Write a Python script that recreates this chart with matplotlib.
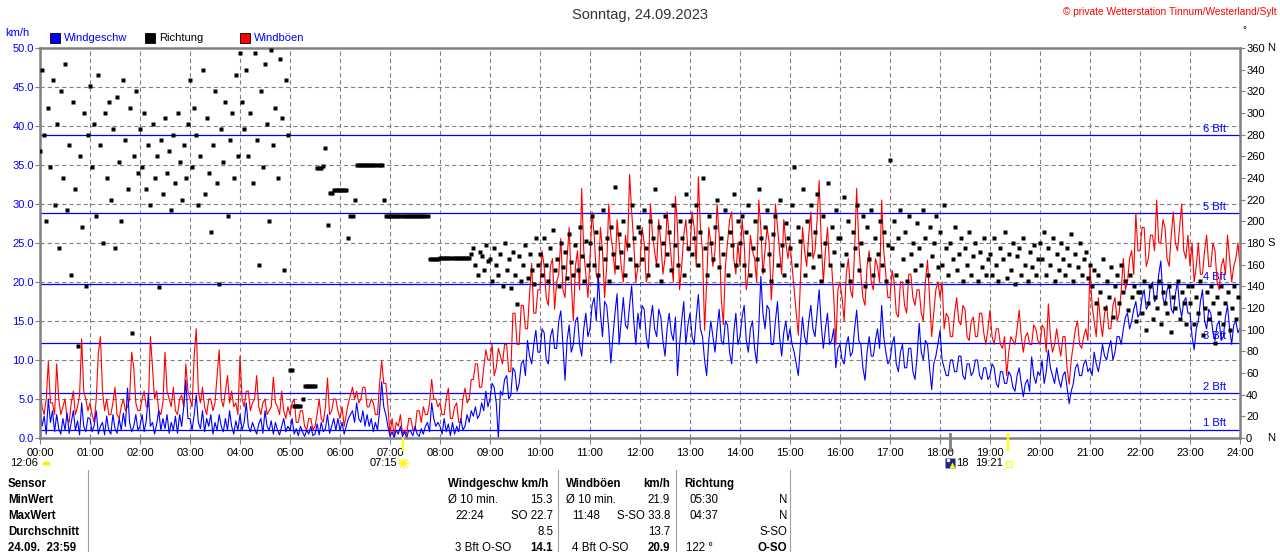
import numpy as np
import matplotlib
matplotlib.use('Agg')
import matplotlib.pyplot as plt
from matplotlib.patches import Rectangle
from matplotlib.lines import Line2D
from matplotlib import transforms

plt.rcParams['font.family'] = ['Liberation Sans', 'DejaVu Sans']
plt.rcParams['lines.scale_dashes'] = False

# ---------------- data ----------------
title = "Sonntag, 24.09.2023"
copyright_text = "\u00a9 private Wetterstation Tinnum/Westerland/Sylt"
hour_labels = [f"{h:02d}:00" for h in range(25)]
speed_ticks = [0, 5, 10, 15, 20, 25, 30, 35, 40, 45, 50]
dir_ticks = list(range(0, 361, 20))
dir_names = {0: "N", 180: "S", 360: "N"}
bft_limits = [1.08, 5.76, 12.24, 19.8, 28.8, 38.88]
bft_names = ["1 Bft", "2 Bft", "3 Bft", "4 Bft", "5 Bft", "6 Bft"]

sunrise = "07:15"
sunset = "19:21"
moon_time = "12:06"
moon_mark = "18:12"

step_min = 2.5  # one value every 2.5 minutes, one row per hour

speed_by_hour = [
    [4.2, 1.5, 2.8, 0.5, 5.0, 2.0, 3.5, 0.8, 3.0, 1.2, 0.5, 2.5, 1.0, 3.2, 0.6, 2.0, 3.5, 1.0, 2.2, 0.4, 4.5, 1.5, 0.8, 2.6],
    [2.5, 0.8, 1.6, 3.5, 0.5, 1.5, 2.0, 0.4, 2.8, 1.0, 0.5, 3.0, 1.2, 0.6, 2.5, 1.0, 3.2, 1.5, 6.4, 2.0, 0.8, 1.5, 3.0, 1.0],
    [1.5, 3.0, 0.8, 2.2, 5.7, 1.5, 2.0, 0.5, 1.8, 3.5, 1.0, 2.5, 1.2, 3.0, 0.6, 2.0, 1.0, 2.8, 0.6, 3.0, 1.5, 4.0, 7.4, 2.5],
    [2.5, 1.0, 3.0, 5.5, 2.0, 1.2, 3.5, 0.8, 2.5, 1.5, 3.0, 0.5, 2.0, 1.0, 3.0, 1.5, 0.8, 2.5, 1.0, 3.5, 1.5, 0.5, 2.2, 1.0],
    [3.0, 1.0, 2.0, 4.5, 1.5, 0.8, 2.0, 1.2, 0.5, 1.8, 2.5, 0.6, 3.5, 1.5, 1.0, 2.2, 0.5, 2.0, 1.0, 0.4, 1.5, 2.5, 0.8, 1.5],
    [1.0, 2.5, 0.5, 1.2, 0.3, 1.5, 0.8, 0.2, 1.0, 0.5, 1.5, 0.3, 0.5, 1.8, 0.4, 2.0, 0.8, 1.2, 3.0, 0.6, 1.5, 2.5, 1.0, 2.5],
    [1.0, 2.0, 0.5, 1.5, 2.5, 3.0, 3.5, 2.0, 4.5, 2.5, 2.0, 3.5, 1.5, 3.0, 1.5, 2.5, 0.8, 2.0, 1.0, 3.5, 7.2, 4.0, 3.0, 1.5],
    [0.2, 0.8, 0.0, 1.0, 0.5, 1.5, 0.2, 0.8, 0.0, 1.0, 0.8, 0.3, 1.5, 0.5, 0.2, 1.2, 0.5, 1.5, 2.0, 0.8, 4.5, 2.5, 1.5, 2.0],
    [1.5, 0.5, 2.5, 0.8, 1.8, 0.3, 2.0, 0.5, 1.5, 0.8, 2.5, 1.0, 1.5, 3.0, 2.0, 3.5, 2.8, 4.0, 2.5, 3.0, 4.5, 3.5, 6.0, 4.0],
    [5.0, 7.0, 6.5, 4.5, 0.0, 6.0, 5.5, 7.5, 8.0, 5.0, 5.5, 9.0, 8.5, 6.0, 7.0, 9.5, 10.0, 8.0, 12.5, 10.5, 9.5, 12.0, 13.8, 11.0],
    [11.0, 14.0, 13.5, 10.0, 9.5, 13.0, 14.0, 11.5, 11.5, 15.0, 16.3, 12.0, 7.4, 12.5, 14.5, 11.0, 12.0, 15.0, 15.5, 12.0, 10.5, 14.0, 16.0, 13.0],
    [14.0, 17.0, 18.0, 15.0, 20.8, 16.0, 13.0, 17.5, 17.0, 14.0, 9.6, 13.0, 16.0, 18.5, 12.0, 15.0, 18.0, 14.5, 14.0, 17.0, 19.5, 15.0, 12.0, 16.0],
    [14.0, 17.0, 16.5, 13.0, 11.5, 15.0, 17.0, 14.0, 13.0, 16.5, 15.5, 12.5, 10.5, 14.0, 16.0, 13.5, 12.5, 15.5, 8.0, 12.0, 15.0, 17.5, 12.0, 14.5],
    [16.0, 13.0, 12.0, 15.5, 18.4, 14.0, 13.0, 10.0, 8.0, 12.5, 15.0, 13.0, 11.0, 14.0, 16.5, 12.5, 12.0, 15.0, 14.5, 11.0, 9.5, 13.5, 16.0, 12.0],
    [13.0, 15.5, 17.0, 12.5, 11.0, 14.0, 15.0, 11.5, 9.6, 14.0, 20.7, 16.0, 14.0, 17.0, 16.5, 12.0, 12.0, 15.0, 17.5, 13.0, 10.5, 13.5, 15.0, 12.5],
    [14.0, 12.0, 11.0, 9.5, 8.0, 12.0, 15.5, 13.0, 12.0, 15.0, 17.0, 14.0, 13.0, 16.0, 19.0, 14.5, 11.5, 14.0, 16.0, 12.0, 12.5, 14.0, 9.0, 11.5],
    [12.0, 10.0, 9.5, 12.0, 13.0, 10.5, 11.0, 14.0, 16.4, 12.5, 12.0, 9.0, 7.4, 11.0, 13.0, 10.5, 10.5, 12.5, 14.0, 11.5, 17.0, 13.0, 11.0, 9.5],
    [10.0, 12.0, 13.0, 9.5, 8.5, 11.0, 12.0, 9.0, 9.0, 11.5, 11.5, 8.5, 7.5, 10.5, 14.7, 11.0, 10.0, 12.5, 12.0, 9.0, 6.2, 9.5, 10.5, 12.0],
    [13.8, 10.0, 9.0, 8.0, 8.0, 10.0, 10.0, 8.5, 8.5, 10.5, 10.5, 8.0, 7.5, 9.5, 9.5, 8.0, 8.5, 10.0, 10.0, 8.0, 7.5, 9.0, 9.0, 7.5],
    [8.0, 9.5, 9.0, 7.0, 6.5, 8.5, 8.5, 7.0, 7.0, 8.5, 8.0, 6.5, 6.0, 8.0, 9.0, 7.0, 5.3, 7.0, 7.5, 6.0, 10.4, 8.0, 7.0, 8.5],
    [8.0, 10.0, 7.0, 8.5, 11.3, 9.0, 8.0, 7.0, 9.0, 7.5, 6.5, 8.0, 8.5, 6.5, 4.4, 6.0, 7.0, 9.0, 9.5, 8.0, 8.0, 9.5, 10.0, 8.5],
    [9.0, 8.0, 11.0, 9.5, 8.5, 10.0, 12.0, 10.5, 10.0, 11.5, 12.5, 10.0, 11.0, 13.0, 13.0, 12.0, 14.0, 15.5, 16.0, 14.0, 15.0, 16.5, 17.5, 15.5],
    [16.0, 18.0, 19.0, 16.5, 17.0, 19.5, 20.0, 17.5, 18.0, 21.0, 22.7, 18.0, 17.0, 19.0, 19.5, 16.5, 16.0, 18.5, 20.0, 17.0, 15.5, 17.5, 18.0, 16.0],
    [16.0, 13.0, 11.3, 14.0, 15.0, 17.5, 19.0, 15.0, 14.0, 16.5, 16.0, 13.5, 12.5, 14.5, 15.0, 12.5, 13.0, 15.5, 17.0, 14.0, 12.0, 14.5, 15.0, 13.5],
]
speed_end = 14.0

gust_by_hour = [
    [6.5, 4.0, 3.0, 5.0, 9.8, 4.5, 4.5, 3.0, 9.5, 5.0, 3.0, 4.0, 5.0, 2.5, 2.0, 4.5, 6.0, 3.0, 4.0, 5.5, 12.7, 6.0, 5.0, 3.5],
    [4.5, 3.0, 2.0, 5.0, 10.8, 13.0, 6.0, 3.5, 5.0, 3.0, 3.0, 4.5, 6.5, 3.0, 2.5, 4.0, 5.0, 3.5, 4.0, 5.0, 11.0, 9.0, 4.5, 3.5],
    [3.5, 5.0, 6.0, 4.0, 4.0, 13.0, 9.0, 5.0, 6.0, 3.5, 3.0, 4.5, 11.0, 6.0, 5.0, 4.0, 6.5, 3.5, 3.0, 5.0, 5.5, 4.0, 9.5, 6.0],
    [5.0, 4.0, 10.5, 14.0, 6.0, 4.5, 6.5, 4.0, 3.0, 5.0, 5.0, 3.5, 4.5, 8.0, 11.3, 5.0, 4.0, 6.0, 8.0, 4.5, 6.0, 4.0, 4.5, 3.0],
    [10.5, 5.0, 4.0, 6.0, 6.0, 3.5, 4.5, 5.0, 8.0, 4.0, 3.0, 4.5, 5.0, 3.0, 3.5, 4.0, 7.8, 4.5, 4.0, 3.0, 6.0, 3.5, 2.5, 4.0],
    [3.0, 4.5, 5.0, 2.0, 2.0, 3.5, 3.5, 1.5, 1.0, 2.5, 2.5, 1.0, 1.5, 3.0, 5.0, 2.5, 2.0, 4.0, 7.7, 3.0, 3.5, 5.0, 5.0, 3.5],
    [2.5, 4.0, 1.5, 3.0, 4.5, 5.5, 6.5, 5.0, 6.0, 4.5, 5.0, 6.5, 6.5, 4.0, 4.0, 5.0, 4.5, 3.0, 3.0, 7.0, 9.9, 7.0, 7.0, 4.0],
    [0.5, 2.5, 0.3, 2.0, 1.5, 3.0, 0.5, 1.0, 0.5, 2.5, 2.5, 1.0, 1.0, 3.5, 3.5, 2.0, 4.0, 3.0, 3.0, 4.5, 7.5, 5.0, 5.0, 4.0],
    [4.5, 3.0, 3.0, 5.0, 6.4, 2.5, 2.5, 4.0, 4.5, 2.0, 2.0, 5.0, 6.4, 4.5, 5.0, 7.5, 7.5, 9.5, 9.5, 6.5, 6.5, 9.0, 11.3, 10.0],
    [10.0, 12.0, 8.0, 9.0, 11.5, 10.5, 9.5, 12.0, 12.0, 8.5, 8.5, 16.0, 16.0, 12.0, 12.0, 17.0, 17.0, 14.0, 14.0, 18.5, 22.4, 16.0, 16.0, 19.0],
    [19.0, 24.0, 22.0, 18.0, 17.0, 22.0, 23.0, 16.5, 20.0, 21.0, 25.6, 19.0, 18.0, 23.0, 27.0, 20.0, 15.0, 22.0, 24.0, 19.0, 32.0, 24.0, 21.0, 18.0],
    [23.0, 29.0, 26.0, 21.0, 20.0, 27.0, 24.0, 18.0, 22.0, 30.0, 26.0, 24.0, 21.0, 28.0, 25.0, 22.0, 20.0, 26.0, 24.0, 33.8, 29.0, 25.0, 20.0, 22.0],
    [22.0, 27.0, 25.0, 20.0, 21.0, 30.0, 26.0, 24.0, 22.0, 28.0, 25.0, 21.0, 23.0, 29.0, 26.0, 23.0, 20.0, 31.0, 27.0, 19.0, 22.0, 26.0, 28.0, 24.0],
    [24.0, 29.0, 27.0, 22.0, 33.5, 27.0, 24.0, 13.8, 20.0, 27.0, 25.0, 22.0, 24.0, 30.0, 26.0, 18.0, 14.5, 22.0, 25.0, 28.0, 29.0, 23.0, 21.0, 25.0],
    [22.0, 28.0, 25.0, 19.0, 21.0, 26.0, 24.0, 23.0, 20.0, 30.5, 27.0, 21.0, 24.0, 27.0, 25.0, 17.7, 22.0, 30.0, 27.0, 24.0, 21.0, 28.0, 25.0, 23.0],
    [25.0, 22.0, 19.0, 16.0, 13.2, 20.0, 27.0, 24.0, 22.0, 26.0, 29.0, 23.0, 24.0, 28.0, 33.0, 25.0, 20.0, 24.0, 27.0, 22.0, 22.0, 18.0, 12.0, 19.0],
    [20.0, 18.0, 15.0, 21.0, 23.0, 19.0, 18.0, 24.0, 32.0, 25.0, 21.0, 18.0, 17.0, 22.0, 24.0, 20.0, 19.0, 23.0, 22.0, 20.0, 30.5, 24.0, 21.0, 18.0],
    [18.0, 21.5, 20.0, 16.0, 15.5, 20.0, 20.0, 17.0, 16.0, 21.0, 21.0, 18.0, 17.0, 19.0, 19.0, 16.0, 15.0, 20.0, 22.8, 18.0, 13.0, 16.0, 19.0, 20.0],
    [18.0, 20.0, 14.0, 16.0, 15.5, 13.0, 13.0, 16.0, 18.0, 15.0, 14.5, 17.0, 16.5, 13.0, 12.5, 15.0, 15.5, 13.0, 13.0, 16.0, 16.0, 13.5, 12.0, 14.0],
    [16.4, 13.0, 12.0, 14.0, 14.0, 12.0, 11.5, 13.0, 8.0, 11.0, 13.0, 12.5, 12.0, 14.0, 16.4, 13.0, 11.0, 13.0, 13.5, 12.0, 12.0, 14.5, 14.0, 12.5],
    [12.0, 14.5, 14.0, 11.0, 17.2, 13.0, 11.0, 12.0, 14.0, 12.0, 10.5, 13.0, 13.0, 9.0, 6.9, 10.0, 12.0, 14.0, 15.0, 12.0, 11.5, 13.0, 14.0, 12.5],
    [22.0, 17.0, 15.0, 13.0, 18.0, 15.0, 13.0, 16.0, 17.0, 14.0, 14.0, 17.0, 18.0, 15.0, 16.0, 19.0, 23.0, 19.0, 20.0, 23.0, 24.0, 21.0, 28.8, 24.0],
    [24.0, 27.0, 27.0, 22.0, 23.0, 26.0, 26.0, 24.0, 30.5, 25.0, 25.0, 28.0, 27.0, 23.0, 22.0, 26.0, 29.0, 25.0, 24.0, 27.0, 30.0, 24.0, 23.0, 26.0],
    [22.0, 25.0, 20.0, 22.0, 25.0, 21.0, 21.0, 24.0, 26.0, 22.0, 22.0, 25.0, 24.0, 20.0, 19.0, 22.0, 23.0, 21.0, 26.0, 23.0, 20.0, 22.0, 23.0, 25.0],
]
gust_end = 22.0

dir_by_hour = [
    [265, 340, 280, 200, 305, 250, 330, 215, 290, 175, 320, 240, 345, 210, 270, 150, 310, 230, 85, 260, 195, 300, 140, 280],
    [325, 250, 290, 205, 335, 270, 180, 300, 240, 310, 220, 285, 175, 315, 255, 200, 330, 275, 230, 305, 97, 260, 320, 245],
    [285, 250, 300, 230, 270, 215, 290, 240, 260, 139, 275, 225, 295, 245, 265, 210, 280, 235, 300, 255, 220, 270, 240, 290],
    [330, 250, 305, 280, 215, 260, 340, 225, 295, 245, 190, 270, 320, 235, 142, 285, 255, 310, 205, 275, 300, 240, 335, 260],
    [355, 310, 285, 340, 260, 300, 235, 355, 275, 160, 320, 250, 345, 290, 200, 358, 270, 305, 240, 350, 295, 155, 330, 280],
    [63, 63, 30, 30, 30, 30, 36, 48, 48, 48, 48, 48, 48, 249, 249, 249, 251, 268, 197, 226, 226, 229, 229, 229],
    [229, 229, 229, 229, 185, 205, 205, 220, 252, 252, 252, 252, 252, 252, 252, 252, 252, 252, 252, 252, 252, 220, 205, 205],
    [205, 205, 205, 205, 205, 205, 205, 205, 205, 205, 205, 205, 205, 205, 205, 205, 205, 205, 205, 165, 165, 165, 165, 165],
    [166, 166, 166, 166, 166, 166, 166, 166, 166, 166, 166, 166, 166, 166, 166, 170, 175, 160, 150, 172, 168, 155, 178, 163],
    [165, 145, 175, 160, 150, 170, 140, 180, 155, 165, 138, 172, 150, 124, 168, 145, 160, 178, 148, 170, 155, 142, 185, 160],
    [170, 150, 185, 160, 145, 175, 192, 155, 165, 140, 180, 158, 172, 148, 188, 162, 150, 178, 155, 195, 168, 145, 182, 160],
    [180, 205, 160, 190, 150, 175, 210, 165, 185, 145, 195, 170, 232, 158, 188, 172, 200, 150, 178, 165, 215, 185, 160, 195],
    [190, 165, 210, 175, 150, 200, 185, 230, 160, 195, 145, 180, 205, 170, 190, 155, 215, 178, 160, 200, 185, 150, 225, 175],
    [200, 170, 185, 215, 160, 190, 240, 175, 150, 205, 180, 165, 195, 220, 158, 185, 170, 210, 150, 190, 178, 225, 160, 200],
    [180, 205, 160, 190, 215, 150, 175, 200, 165, 230, 185, 155, 195, 210, 170, 145, 188, 205, 160, 220, 178, 150, 198, 185],
    [175, 215, 250, 160, 195, 182, 230, 150, 200, 170, 215, 158, 190, 225, 168, 145, 205, 180, 235, 160, 195, 172, 210, 185],
    [185, 160, 222, 170, 200, 145, 190, 175, 215, 155, 180, 205, 140, 195, 165, 210, 150, 185, 170, 200, 160, 190, 145, 178],
    [257, 175, 200, 150, 185, 210, 165, 190, 145, 205, 170, 180, 155, 198, 175, 160, 210, 185, 150, 195, 168, 180, 205, 158],
    [190, 160, 215, 175, 150, 180, 165, 195, 155, 170, 185, 145, 175, 160, 190, 150, 168, 180, 145, 172, 158, 185, 150, 165],
    [170, 150, 185, 160, 145, 175, 165, 190, 148, 170, 155, 180, 142, 168, 175, 150, 185, 160, 145, 172, 158, 178, 150, 165],
    [180, 165, 190, 150, 175, 160, 185, 145, 170, 155, 180, 165, 150, 175, 160, 188, 145, 170, 158, 180, 150, 165, 172, 148],
    [160, 140, 155, 125, 150, 135, 165, 120, 145, 130, 158, 112, 140, 150, 125, 160, 135, 145, 118, 150, 130, 140, 108, 135],
    [135, 115, 145, 100, 125, 140, 110, 130, 120, 145, 105, 135, 125, 115, 140, 98, 130, 120, 145, 110, 135, 125, 105, 140],
    [125, 140, 105, 130, 115, 145, 95, 120, 135, 110, 140, 125, 88, 130, 115, 140, 105, 125, 135, 100, 120, 140, 110, 130],
]

# table texts
table_labels = ["Sensor", "MinWert", "MaxWert", "Durchschnitt", "24.09.  23:59"]


def flatten(rows, end=None):
    t, v = [], []
    for h, row in enumerate(rows):
        for j, val in enumerate(row):
            t.append(h + j * step_min / 60.0)
            v.append(val)
    if end is not None:
        t.append(float(len(rows)))
        v.append(end)
    return np.array(t), np.array(v, dtype=float)


t_speed, wind_speed = flatten(speed_by_hour, speed_end)
t_gust, wind_gust = flatten(gust_by_hour, gust_end)
t_dir, wind_dir = flatten(dir_by_hour)

# ---------------- figure ----------------
W, H = 1280, 552
fig = plt.figure(figsize=(W / 100, H / 100), dpi=100)
fig.patch.set_facecolor('white')


def fx(x):
    return x / W


def fy(y):
    return 1 - y / H


GRAY = '#808080'
ax = fig.add_axes([fx(40), fy(438), 1200 / W, 390 / H])
ax.set_xlim(0, 24)
ax.set_ylim(0, 50)

# grid
for h in range(1, 24):
    ax.axvline(h, color=GRAY, lw=0.8, ls=(0, (3.0, 2.2)), zorder=1)
for v in speed_ticks[1:-1]:
    ax.axhline(v, color=GRAY, lw=0.8, ls=(0, (3.0, 2.2)), zorder=1)

# Beaufort lines
for lim, name in zip(bft_limits, bft_names):
    ax.axhline(lim, color='#0000ff', lw=0.9, zorder=1.6)
    ax.annotate(name, xy=(23.72, lim), xytext=(0, 2.3), textcoords='offset points',
                ha='right', va='baseline', color='#0000ff', fontsize=8, zorder=1.7)

ax.plot(t_gust, wind_gust, color='#ff0000', lw=0.8, zorder=2.2)
ax.plot(t_speed, wind_speed, color='#0000ff', lw=0.8, zorder=2.4)

ax.set_xticks(range(25))
ax.set_xticklabels(hour_labels)
ax.set_yticks(speed_ticks)
ax.set_yticklabels([f"{v:.1f}" for v in speed_ticks])
ax.tick_params(axis='x', direction='out', length=4.5, width=0.8, color=GRAY,
               labelcolor='black', labelsize=8, pad=2.5)
ax.tick_params(axis='y', direction='out', length=3.6, width=0.8, color=GRAY,
               labelcolor='#0000ff', labelsize=8, pad=0.8)
for s in ax.spines.values():
    s.set_color(GRAY)
    s.set_linewidth(1.8)
    s.set_zorder(5)

ax2 = ax.twinx()
ax2.set_ylim(0, 360)
ax2.plot(t_dir, wind_dir, 's', ms=2.2, color='black', mec='none', zorder=3, antialiased=False)
ax2.set_yticks(dir_ticks)
ax2.set_yticklabels([str(d) for d in dir_ticks])
ax2.tick_params(axis='y', direction='out', length=3.6, width=0.8, color=GRAY,
                labelcolor='black', labelsize=8, pad=0.8)
for s in ax2.spines.values():
    s.set_visible(False)
tr_dir = transforms.blended_transform_factory(fig.transFigure, ax2.transData)
for d, nm in dir_names.items():
    fig.text(fx(1267), d, nm, transform=tr_dir, ha='left', va='center', fontsize=8, color='black')

# ---------------- header ----------------
fig.text(0.5, fy(15), title, ha='center', va='center', fontsize=10.5, color='#333333')
fig.text(fx(1277), fy(12), copyright_text, ha='right', va='center', fontsize=7.3, color='#ff0000')
fig.text(fx(1242), fy(30), '\u00b0', ha='left', va='center', fontsize=7, color='black')
fig.text(fx(5), fy(33), 'km/h', ha='left', va='center', fontsize=8, color='#0000ff')

legend = [(50, '#0000ff', 'Windgeschw', '#0000ff'),
          (145, '#000000', 'Richtung', '#000000'),
          (240, '#ff0000', 'Windböen', '#0000ff')]
for x0, fc, lab, tc in legend:
    fig.add_artist(Rectangle((fx(x0), fy(43)), 10 / W, 10 / H, transform=fig.transFigure,
                             facecolor=fc, edgecolor='black', lw=0.6))
    fig.text(fx(x0 + 14), fy(38), lab, ha='left', va='center', fontsize=8, color=tc)

# ---------------- sun / moon marks ----------------
tr_x = transforms.blended_transform_factory(ax.transData, fig.transFigure)


def hh(s):
    a, b = s.split(':')
    return int(a) + int(b) / 60.0


fig.add_artist(Line2D([hh(sunrise)] * 2, [fy(439), fy(450)], transform=tr_x, color='#ffff00', lw=1.6))
fig.add_artist(Line2D([hh(sunset)] * 2, [fy(434), fy(450)], transform=tr_x, color='#ffff00', lw=1.6))
fig.add_artist(Line2D([hh(moon_mark)] * 2, [fy(434), fy(450)], transform=tr_x, color=GRAY, lw=2.0))

fig.text(fx(10), fy(463), moon_time, ha='left', va='center', fontsize=8)
fig.add_artist(Line2D([fx(46)], [fy(465)], transform=fig.transFigure, marker='o', ms=6,
                      fillstyle='top', markerfacecolor='#ffee00', markerfacecoloralt='none',
                      mec='none', ls='none'))
fig.text(fx(370), fy(463), sunrise, ha='left', va='center', fontsize=8)
fig.add_artist(Line2D([fx(403)], [fy(463)], transform=fig.transFigure, marker=(8, 2, 0), ms=8,
                      color='#ffee44', mew=0.8, ls='none'))
fig.add_artist(Line2D([fx(403)], [fy(463)], transform=fig.transFigure, marker='o', ms=4,
                      markerfacecolor='#ffff00', mec='none', ls='none'))
fig.add_artist(Line2D([fx(950)], [fy(463)], transform=fig.transFigure, marker='s', ms=7,
                      markerfacecolor='#1a2a80', mec='none', ls='none'))
fig.add_artist(Line2D([fx(948)], [fy(460)], transform=fig.transFigure, marker='o', ms=2.5,
                      markerfacecolor='white', mec='none', ls='none'))
fig.add_artist(Line2D([fx(952)], [fy(465)], transform=fig.transFigure, marker='^', ms=4,
                      markerfacecolor='#ffff00', mec='none', ls='none'))
fig.text(fx(956), fy(463), '18', ha='left', va='center', fontsize=8)
fig.text(fx(975), fy(463), sunset, ha='left', va='center', fontsize=8)
fig.add_artist(Line2D([fx(1009)], [fy(464)], transform=fig.transFigure, marker='s', ms=4,
                      markerfacecolor='none', mec='#ffff00', mew=0.8, ls='none'))

# ---------------- table ----------------
for xs in (88, 558, 676, 790):
    fig.add_artist(Line2D([fx(xs)] * 2, [fy(470), fy(552)], transform=fig.transFigure,
                          color='#a0a0a0', lw=0.8))

row_y = [484, 500, 516, 532, 548]
for lab, y in zip(table_labels, row_y):
    fig.text(fx(8), fy(y), lab, ha='left', va='center', fontsize=8.3, weight='bold')


def cell(x, y, s, ha='left', bold=False):
    fig.text(fx(x), fy(y), s, ha=ha, va='center', fontsize=8.3,
             weight='bold' if bold else 'normal')


cell(448, 484, 'Windgeschw km/h', bold=True)
cell(448, 500, '\u00d8 10 min.')
cell(553, 500, '15.3', 'right')
cell(455, 516, '22:24')
cell(553, 516, 'SO 22.7', 'right')
cell(553, 532, '8.5', 'right')
cell(455, 548, '3 Bft O-SO')
cell(553, 548, '14.1', 'right', True)

cell(566, 484, 'Windböen', bold=True)
cell(670, 484, 'km/h', 'right', True)
cell(566, 500, '\u00d8 10 min.')
cell(670, 500, '21.9', 'right')
cell(572, 516, '11:48')
cell(670, 516, 'S-SO 33.8', 'right')
cell(670, 532, '13.7', 'right')
cell(572, 548, '4 Bft O-SO')
cell(670, 548, '20.9', 'right', True)

cell(684, 484, 'Richtung', bold=True)
cell(689, 500, '05:30')
cell(787, 500, 'N', 'right')
cell(689, 516, '04:37')
cell(787, 516, 'N', 'right')
cell(787, 532, 'S-SO', 'right')
cell(686, 548, '122 \u00b0')
cell(787, 548, 'O-SO', 'right', True)

fig.savefig('out.png', dpi=100, facecolor='white')
